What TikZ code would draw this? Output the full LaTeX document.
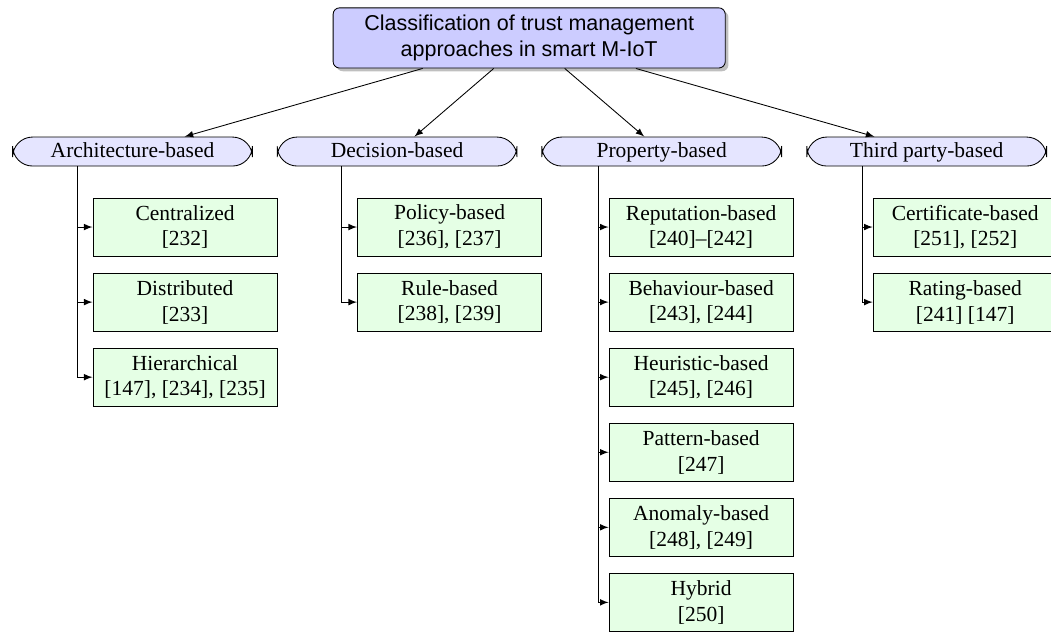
\documentclass[tikz,border=0pt]{standalone}
\usepackage{fontspec}
\setmainfont{Liberation Serif}
\setsansfont{Liberation Sans}
\usetikzlibrary{shapes,arrows,positioning,shadows}

\begin{document}
\begin{tikzpicture}[
    root/.style={rectangle, draw, fill=blue!20, minimum width=6.41cm, minimum height=0.98cm, rounded corners=3pt, align=center, font=\sffamily, drop shadow={shadow xshift=1.5pt, shadow yshift=-1.5pt}},
    category/.style={rectangle, draw, fill=blue!10, minimum width=3.92cm, minimum height=0.474cm, rounded corners=0.327cm, inner sep=0pt, text height=1.6ex, text depth=0.45ex},
    leaf/.style={rectangle, draw, fill=green!10, minimum width=3.01cm, minimum height=0.948cm, align=center, inner sep=1pt},
    >=latex
]
\useasboundingbox (0,0) rectangle (17.18,-10.38);

% Root
\node[root] (trust) at (8.65,-0.62) {Classification of trust management\\approaches in smart M-IoT};

% Categories
\node[category] (arch) at (2.166,-2.477) {Architecture-based};
\node[category] (decision) at (6.491,-2.477) {Decision-based};
\node[category] (property) at (10.816,-2.477) {Property-based};
\node[category] (third) at (15.148,-2.477) {Third party-based};

% Architecture-based
\node[leaf] (central) at (3.025,-3.711) {Centralized\\{[232]}};
\node[leaf, below=0.265cm of central] (distrib) {Distributed\\{[233]}};
\node[leaf, below=0.265cm of distrib] (hier) {Hierarchical\\{[147], [234], [235]}};

% Decision-based
\node[leaf] (policy) at (7.349,-3.711) {Policy-based\\{[236], [237]}};
\node[leaf, below=0.265cm of policy] (rule) {Rule-based\\{[238], [239]}};

% Property-based
\node[leaf] (reput) at (11.461,-3.711) {Reputation-based\\{[240]--[242]}};
\node[leaf, below=0.265cm of reput] (behav) {Behaviour-based\\{[243], [244]}};
\node[leaf, below=0.265cm of behav] (heur) {Heuristic-based\\{[245], [246]}};
\node[leaf, below=0.265cm of heur] (pattern) {Pattern-based\\{[247]}};
\node[leaf, below=0.265cm of pattern] (anomaly) {Anomaly-based\\{[248], [249]}};
\node[leaf, below=0.265cm of anomaly] (hybrid) {Hybrid\\{[250]}};

% Third party-based
\node[leaf] (cert) at (15.778,-3.711) {Certificate-based\\{[251], [252]}};
\node[leaf, below=0.265cm of cert] (rating) {Rating-based\\{[241] [147]}};

% Buses
\coordinate (archbus) at (1.259,0);
\coordinate (decbus) at (5.575,0);
\coordinate (propbus) at (9.777,0);
\coordinate (thirdbus) at (14.094,0);

% Connections
\foreach \cat in {arch,decision,property,third}
    \draw[->] (trust) -- (\cat);
\foreach \leaf in {central,distrib,hier}
    \draw[->] (arch.south -| archbus) |- (\leaf.west);
\foreach \leaf in {policy,rule}
    \draw[->] (decision.south -| decbus) |- (\leaf.west);
\foreach \leaf in {reput,behav,heur,pattern,anomaly,hybrid}
    \draw[->] (property.south -| propbus) |- (\leaf.west);
\foreach \leaf in {cert,rating}
    \draw[->] (third.south -| thirdbus) |- (\leaf.west);

\end{tikzpicture}
\end{document}
